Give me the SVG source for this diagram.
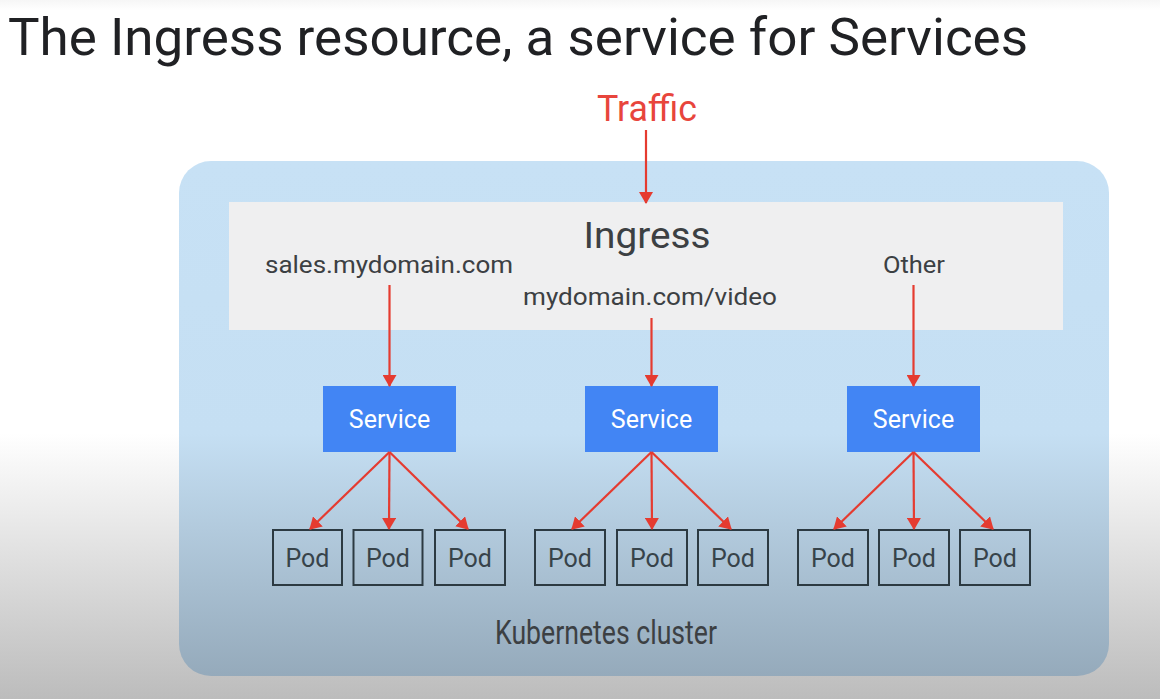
<svg xmlns="http://www.w3.org/2000/svg" width="1160" height="699" viewBox="0 0 1160 699">
  <defs>
    <linearGradient id="bg" gradientUnits="userSpaceOnUse" x1="0" y1="0" x2="0" y2="699">
      <stop offset="0" stop-color="#f6f6f6"/>
      <stop offset="0.015" stop-color="#ffffff"/>
      <stop offset="0.62" stop-color="#ffffff"/>
      <stop offset="1" stop-color="#bcbcbc"/>
    </linearGradient>
    <linearGradient id="cl" gradientUnits="userSpaceOnUse" x1="0" y1="161" x2="0" y2="676">
      <stop offset="0" stop-color="#c7e1f5"/>
      <stop offset="0.53" stop-color="#c5dff3"/>
      <stop offset="1" stop-color="#95aabb"/>
    </linearGradient>
    <marker id="ah" viewBox="0 0 12 14" refX="11" refY="7" markerWidth="12" markerHeight="14" markerUnits="userSpaceOnUse" orient="auto">
      <path d="M0,0 L12,7 L0,14 Z" fill="#e53b30"/>
    </marker>
    <style>
      .lbl{font-family:Roboto,"Liberation Sans",sans-serif;fill:#3c4043;text-anchor:middle}
      .svc rect{fill:#4285f4}
      .svc text{font-family:Roboto,"Liberation Sans",sans-serif;fill:#ffffff;font-size:25px;text-anchor:middle}
      .pod rect{fill:none;stroke:#2c3a42;stroke-width:2}
      .pod text{font-family:Roboto,"Liberation Sans",sans-serif;fill:#37434a;font-size:25px;text-anchor:middle}
      .conn line{stroke:#e53b30;stroke-width:2.2;marker-end:url(#ah)}
    </style>
  </defs>
  <rect x="0" y="0" width="1160" height="699" fill="url(#bg)"/>
  <text id="title" x="8" y="55" font-family="Roboto,'Liberation Sans',sans-serif" font-size="52" fill="#202124" textLength="1020" lengthAdjust="spacingAndGlyphs">The Ingress resource, a service for Services</text>

  <g id="cluster">
    <rect x="179" y="161" width="930" height="515" rx="32" fill="url(#cl)"/>
    <text class="lbl" x="606" y="644" font-size="33" textLength="222" lengthAdjust="spacingAndGlyphs">Kubernetes cluster</text>
  </g>

  <g id="traffic">
    <text x="647" y="121" font-family="Roboto,'Liberation Sans',sans-serif" font-size="36" fill="#e8453c" text-anchor="middle" textLength="100" lengthAdjust="spacingAndGlyphs">Traffic</text>
  </g>

  <g id="ingress">
    <rect x="229" y="202" width="834" height="128" fill="#efeff0"/>
    <text class="lbl" x="647" y="248" font-size="36" textLength="127" lengthAdjust="spacingAndGlyphs">Ingress</text>
    <text class="lbl" x="389" y="273" font-size="24" textLength="248" lengthAdjust="spacingAndGlyphs">sales.mydomain.com</text>
    <text class="lbl" x="650" y="305" font-size="24" textLength="254" lengthAdjust="spacingAndGlyphs">mydomain.com/video</text>
    <text class="lbl" x="914" y="273" font-size="24" textLength="62" lengthAdjust="spacingAndGlyphs">Other</text>
  </g>

  <g id="service1" class="svc"><rect x="323" y="386" width="133" height="66"/><text x="389.5" y="428">Service</text></g>
  <g id="service2" class="svc"><rect x="585" y="386" width="133" height="66"/><text x="651.5" y="428">Service</text></g>
  <g id="service3" class="svc"><rect x="847" y="386" width="133" height="66"/><text x="913.5" y="428">Service</text></g>

  <g id="pod1" class="pod"><rect x="273" y="530" width="69" height="55"/><text x="307.5" y="567">Pod</text></g>
  <g id="pod2" class="pod"><rect x="353.5" y="530" width="69" height="55"/><text x="388" y="567">Pod</text></g>
  <g id="pod3" class="pod"><rect x="435" y="530" width="70" height="55"/><text x="470" y="567">Pod</text></g>
  <g id="pod4" class="pod"><rect x="535" y="530" width="70" height="55"/><text x="570" y="567">Pod</text></g>
  <g id="pod5" class="pod"><rect x="617" y="530" width="70" height="55"/><text x="652" y="567">Pod</text></g>
  <g id="pod6" class="pod"><rect x="698" y="530" width="70" height="55"/><text x="733" y="567">Pod</text></g>
  <g id="pod7" class="pod"><rect x="798" y="530" width="70" height="55"/><text x="833" y="567">Pod</text></g>
  <g id="pod8" class="pod"><rect x="879" y="530" width="70" height="55"/><text x="914" y="567">Pod</text></g>
  <g id="pod9" class="pod"><rect x="960" y="530" width="70" height="55"/><text x="995" y="567">Pod</text></g>

  <g id="connectors" class="conn">
    <line x1="646" y1="130" x2="646" y2="203"/>
    <line x1="389.5" y1="285" x2="389.5" y2="386"/>
    <line x1="651.5" y1="318" x2="651.5" y2="386"/>
    <line x1="913.5" y1="285" x2="913.5" y2="386"/>

    <line x1="389.5" y1="452" x2="310" y2="529"/>
    <line x1="389.5" y1="452" x2="389" y2="529"/>
    <line x1="389.5" y1="452" x2="468" y2="529"/>

    <line x1="651.5" y1="452" x2="572" y2="529"/>
    <line x1="651.5" y1="452" x2="652" y2="529"/>
    <line x1="651.5" y1="452" x2="731" y2="529"/>

    <line x1="913.5" y1="452" x2="834" y2="529"/>
    <line x1="913.5" y1="452" x2="914" y2="529"/>
    <line x1="913.5" y1="452" x2="993" y2="529"/>
  </g>
</svg>
